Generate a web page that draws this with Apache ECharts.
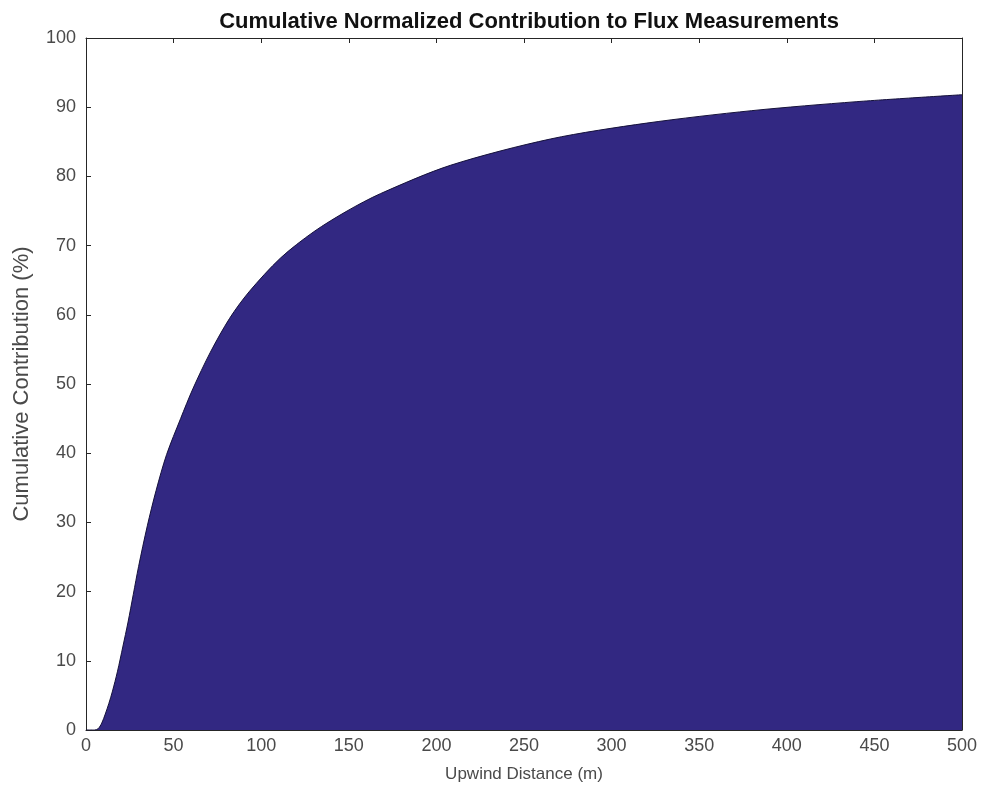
<!DOCTYPE html>
<html>
<head>
<meta charset="utf-8">
<script src="https://cdn.jsdelivr.net/npm/echarts@6/dist/echarts.min.js"></script>
<style>html,body{margin:0;padding:0;background:#fff}#c{width:984px;height:788px}</style>
</head>
<body>
<div id="c"></div>
<script>
const distance = [0,5,7,9,11,13,15,18,21,24,27,30,35,40,46,54,61,71,82,93,111,130,149,168,208,265,320,380,440,500];
const contribution = [0,0,0.2,1.0,2.3,3.8,5.5,8.5,12,15.6,19.6,23.6,29.5,34.6,39.8,45.0,49.3,54.6,59.5,63.3,68.2,72.0,75.0,77.5,81.6,85.4,87.7,89.5,90.8,91.8];
const xTicks = [0,50,100,150,200,250,300,350,400,450,500];
const yTicks = [0,10,20,30,40,50,60,70,80,90,100];

const chart = echarts.init(document.getElementById('c'), null, {renderer:'canvas'});
const font = 'Liberation Sans, Arial, Helvetica, sans-serif';
const axisCol = '#262626';
const lblCol = '#4a4a4a';
const tick = {show:true, inside:true, length:5, lineStyle:{color:axisCol, width:1}};
chart.setOption({
  animation:false,
  backgroundColor:'#fff',
  title:{text:'Cumulative Normalized Contribution to Flux Measurements', left:524, textAlign:'center', top:6,
    textStyle:{fontFamily:font, fontWeight:'bold', fontSize:22, color:'#111'}},
  grid:{left:86, right:22, top:38, bottom:58},
  xAxis:[{type:'value', min:0, max:500, interval:50, position:'bottom',
    axisLine:{show:true, onZero:false, lineStyle:{color:axisCol, width:1}},
    axisTick:tick, splitLine:{show:false},
    axisLabel:{color:lblCol, fontFamily:font, fontSize:18, margin:7,
      formatter: v => xTicks.includes(v) ? String(v) : ''},
    name:'Upwind Distance (m)', nameLocation:'middle', nameGap:36,
    nameTextStyle:{color:lblCol, fontFamily:font, fontSize:17}},
   {type:'value', min:0, max:500, interval:50, position:'top',
    axisLine:{show:true, onZero:false, lineStyle:{color:axisCol, width:1}},
    axisTick:tick, axisLabel:{show:false}, splitLine:{show:false}}],
  yAxis:[{type:'value', min:0, max:100, interval:10, position:'left',
    axisLine:{show:true, onZero:false, lineStyle:{color:axisCol, width:1}},
    axisTick:tick, splitLine:{show:false},
    axisLabel:{color:lblCol, fontFamily:font, fontSize:18, margin:10,
      formatter: v => yTicks.includes(v) ? String(v) : ''},
    name:'Cumulative Contribution (%)', nameLocation:'middle', nameGap:53, nameRotate:90,
    nameTextStyle:{color:lblCol, fontFamily:font, fontSize:22}},
   {type:'value', min:0, max:100, interval:10, position:'right',
    axisLine:{show:true, onZero:false, lineStyle:{color:axisCol, width:1}},
    axisTick:tick, axisLabel:{show:false}, splitLine:{show:false}}],
  series:[{type:'line', xAxisIndex:0, yAxisIndex:0, smooth:0.3, symbol:'none',
    data: distance.map((d,i)=>[d, contribution[i]]),
    lineStyle:{color:'#15113a', width:1},
    areaStyle:{color:'#322882', opacity:1, origin:'start'}, z:1}]
});
</script>
</body>
</html>
